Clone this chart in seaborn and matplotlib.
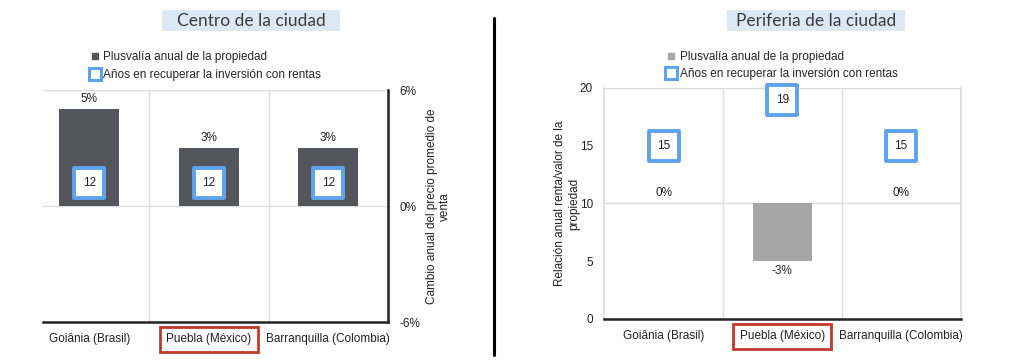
import numpy as np
import seaborn as sns
import matplotlib.pyplot as plt
from matplotlib.lines import Line2D
from matplotlib.patches import Rectangle

# data
cities = ["Goiânia (Brasil)", "Puebla (México)", "Barranquilla (Colombia)"]
plusvalia_centro = [5, 3, 3]
anos_centro = [12, 12, 12]
plusvalia_periferia = [0, -3, 0]
anos_periferia = [15, 19, 15]

pct_ticks = [-6, 0, 6]
yrs_ticks = [0, 5, 10, 15, 20]

titles = ["Centro de la ciudad", "Periferia de la ciudad"]
legend_labels = ["Plusvalía anual de la propiedad",
                 "Años en recuperar la inversión con rentas"]
ylabel_centro = "Cambio anual del precio promedio de\nventa"
ylabel_periferia = "Relación anual renta/valor de la\npropiedad"

DARK = "#54565b"
LIGHT = "#a6a6a6"
BLUE = "#5ea3ee"
RED = "#c0392b"
GRID = "#dcdcdc"
TXT = "#222222"

sns.set_theme(style="white")
plt.rcParams["font.family"] = ["Liberation Sans", "DejaVu Sans"]

fig = plt.figure(figsize=(10.24, 3.62), dpi=100)


def panel(pos, xlim, pct, yrs, bar_color, left_side):
    ax = fig.add_axes(pos)
    sns.barplot(x=cities, y=pct, ax=ax, color=bar_color, width=0.5,
                saturation=1, edgecolor="none")
    ax.set_ylim(pct_ticks[0], pct_ticks[-1])
    ax.set_xlim(*xlim)
    ax.set_xlabel("")
    ax.set_ylabel("")

    # grid lines
    for y in pct_ticks[1:]:
        ax.axhline(y, color=GRID, lw=1.0, zorder=0)
    for x in np.arange(len(cities) - 1) + 0.5:
        ax.axvline(x, color=GRID, lw=1.0, zorder=0)

    for s in ax.spines.values():
        s.set_visible(False)
    ax.spines["bottom"].set_visible(True)
    ax.spines["bottom"].set_color(TXT)
    ax.spines["bottom"].set_linewidth(1.8)

    # percent labels
    for i, v in enumerate(pct):
        va = "bottom" if v >= 0 else "top"
        off = 3 if v >= 0 else -3
        ax.annotate(f"{v}%", (i, v), xytext=(0, off), textcoords="offset points",
                    ha="center", va=va, fontsize=8.5, color=TXT)

    ax.tick_params(axis="x", length=0, labelsize=8.5, labelcolor=TXT, pad=8)

    ax2 = ax.twinx()
    ax2.set_ylim(yrs_ticks[0], yrs_ticks[-1])
    xs = np.arange(len(cities))
    ax2.scatter(xs, yrs, marker="s", s=480, facecolor="white",
                edgecolor=BLUE, linewidth=2.8, zorder=3, clip_on=False)
    for i, v in enumerate(yrs):
        ax2.text(i, v, str(v), ha="center", va="center", fontsize=8.5,
                 color=TXT, zorder=4)
    for s in ax2.spines.values():
        s.set_visible(False)

    if left_side:
        ax.yaxis.tick_right()
        ax.set_yticks(pct_ticks)
        ax.set_yticklabels([f"{t}%" for t in pct_ticks])
        ax.tick_params(axis="y", length=0, labelsize=8.5, labelcolor=TXT, pad=8)
        ax.spines["right"].set_visible(True)
        ax.spines["right"].set_color(TXT)
        ax.spines["right"].set_linewidth(1.8)
        ax2.set_yticks([])
        ax.yaxis.set_label_position("right")
        ax.set_ylabel(ylabel_centro, fontsize=8.5, color=TXT, labelpad=4)
    else:
        ax.set_yticks([])
        ax2.yaxis.tick_left()
        ax2.set_yticks(yrs_ticks)
        ax2.tick_params(axis="y", length=0, labelsize=8.5, labelcolor=TXT, pad=8)
        ax.spines["left"].set_visible(True)
        ax.spines["left"].set_color(GRID)
        ax.spines["right"].set_visible(True)
        ax.spines["right"].set_color(GRID)
        ax2.yaxis.set_label_position("left")
        ax2.set_ylabel(ylabel_periferia, fontsize=8.5, color=TXT, labelpad=0)
    ax.axhline(pct_ticks[-1], color=GRID, lw=1.2, zorder=0)

    # red box around Puebla
    lbl = ax.get_xticklabels()[1]
    lbl.set_bbox(dict(boxstyle="square,pad=0.55", facecolor="none",
                      edgecolor=RED, linewidth=2))
    return ax


ax_l = panel([0.042, 0.11, 0.337, 0.641], (-0.387, 2.5),
             plusvalia_centro, anos_centro, DARK, True)
ax_r = panel([0.590, 0.119, 0.348, 0.638], (-0.5, 2.5),
             plusvalia_periferia, anos_periferia, LIGHT, False)

# legends
for ax, col, x0, y0 in [(ax_l, DARK, 0.088, 0.858), (ax_r, LIGHT, 0.651, 0.86)]:
    handles = [
        Line2D([], [], ls="none", marker="s", markersize=5,
               markerfacecolor=col, markeredgecolor=col),
        Line2D([], [], ls="none", marker="s", markersize=8,
               markerfacecolor="white", markeredgecolor=BLUE, markeredgewidth=2.2),
    ]
    ax.legend(handles, legend_labels, loc="upper left",
              bbox_to_anchor=(x0, y0), bbox_transform=fig.transFigure,
              frameon=False, fontsize=8.5, handlelength=0.8, handletextpad=0.3,
              labelspacing=0.45, borderpad=0, borderaxespad=0)

# panel titles
for x, t in [(0.245, titles[0]), (0.797, titles[1])]:
    fig.add_artist(Rectangle((x - 0.087, 0.914), 0.174, 0.058,
                             transform=fig.transFigure, facecolor="#dde8f5",
                             edgecolor="none"))
    fig.text(x, 0.943, t, ha="center", va="center", fontsize=12.5,
             family="Lato", color="#3c3c3c")

# divider
fig.add_artist(Line2D([0.4824, 0.4824], [0.02, 0.95], color="black", lw=2.2,
                      transform=fig.transFigure))

fig.savefig("out.png", dpi=100, facecolor="white")
